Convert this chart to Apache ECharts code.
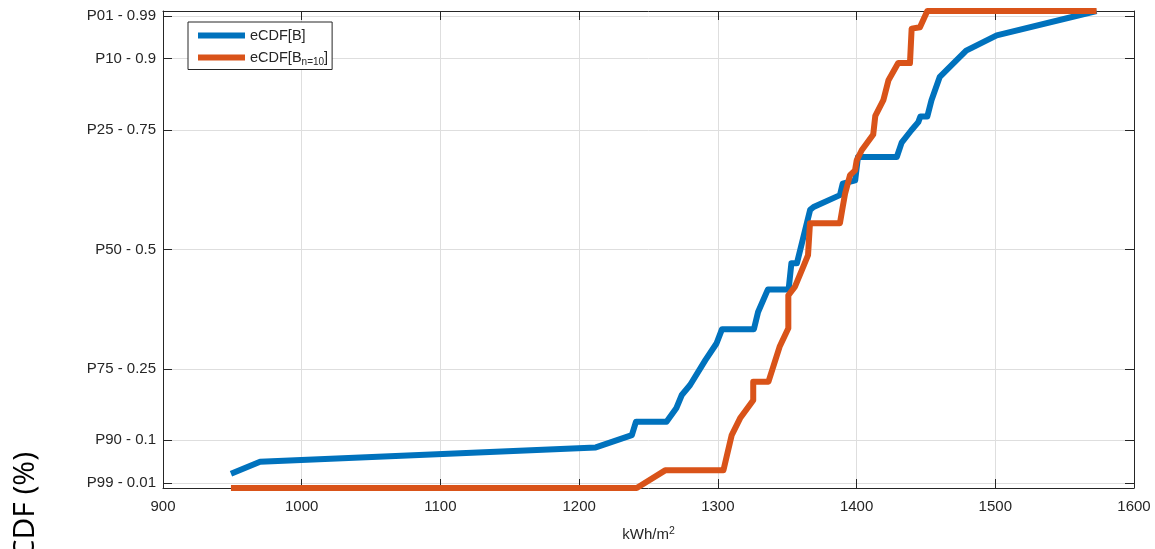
<!DOCTYPE html>
<html>
<head>
<meta charset="utf-8">
<script src="https://cdn.jsdelivr.net/npm/echarts@6/dist/echarts.min.js"></script>
<style>
html,body{margin:0;padding:0;background:#fff;}
#chart{width:1155px;height:549px;}
</style>
</head>
<body>
<div id="chart"></div>
<script>
// ---- data ----
const blueName = 'eCDF[B]';
const orangeName = 'eCDF[Bn=10]';
const blueX = [949, 970, 1212, 1238, 1241, 1263, 1270, 1274, 1280, 1291, 1299, 1303, 1326, 1329, 1336, 1351, 1353, 1357, 1366.5, 1369, 1388, 1390, 1399, 1401, 1429, 1432.5, 1439.5, 1444.5, 1446, 1451, 1454, 1460, 1479, 1501, 1573];
const blueY = [0.03, 0.055, 0.085, 0.111, 0.139, 0.139, 0.167, 0.195, 0.216, 0.268, 0.303, 0.333, 0.333, 0.369, 0.416, 0.416, 0.471, 0.471, 0.583, 0.589, 0.614, 0.638, 0.645, 0.694, 0.694, 0.724, 0.75, 0.767, 0.779, 0.779, 0.813, 0.862, 0.917, 0.949, 1.0];
const orangeX = [949, 1241.5, 1262, 1304, 1310, 1316, 1325.5, 1325.5, 1336.5, 1344.5, 1350.8, 1350.8, 1355.6, 1361.6, 1365, 1366.4, 1388, 1390, 1391.7, 1395.3, 1398.9, 1400.1, 1403.7, 1412, 1413.5, 1419.3, 1423, 1430, 1438.5, 1439.7, 1445.7, 1451, 1573];
const orangeY = [0, 0, 0.037, 0.037, 0.111, 0.146, 0.184, 0.223, 0.223, 0.296, 0.335, 0.404, 0.422, 0.464, 0.488, 0.555, 0.555, 0.589, 0.617, 0.656, 0.666, 0.687, 0.708, 0.741, 0.78, 0.813, 0.855, 0.891, 0.891, 0.963, 0.966, 1.0, 1.0];
const yTickValues = [0.01, 0.1, 0.25, 0.5, 0.75, 0.9, 0.99];
const yTickLabels = ['P99 - 0.01', 'P90 - 0.1', 'P75 - 0.25', 'P50 - 0.5', 'P25 - 0.75', 'P10 - 0.9', 'P01 - 0.99'];
const xMin = 900, xMax = 1600, xStep = 100;
const xName = 'kWh/m';
const yName = 'CDF (%)';

const blueData = blueX.map((x, i) => [x, blueY[i]]);
const orangeData = orangeX.map((x, i) => [x, orangeY[i]]);

const txt = '#262626';
const font = 'Liberation Sans, Arial, Helvetica, sans-serif';
const gridColor = '#dedede';

const chart = echarts.init(document.getElementById('chart'), null, {renderer: 'canvas'});
const option = {
  animation: false,
  backgroundColor: '#fff',
  grid: {left: 163, right: 21, top: 11, bottom: 61, containLabel: false},
  legend: {
    left: 188, top: 22, orient: 'vertical',
    data: [blueName, orangeName],
    icon: 'rect', itemWidth: 47, itemHeight: 6, itemGap: 7,
    padding: [6, 4, 2, 10],
    borderColor: '#262626', borderWidth: 1, backgroundColor: '#fff',
    formatter: function (n) {
      if (n === orangeName) return '{a|eCDF[B}{s|n=10}{a|]}';
      return '{a|' + n + '}';
    },
    textStyle: {
      color: txt, fontFamily: font, fontSize: 14.5,
      rich: {
        a: {fontSize: 14.5, fontFamily: font, color: txt, lineHeight: 20, verticalAlign: 'middle'},
        s: {fontSize: 10, fontFamily: font, color: txt, lineHeight: 6, verticalAlign: 'bottom'}
      }
    }
  },
  xAxis: [{
    type: 'value', min: xMin, max: xMax, interval: xStep,
    name: '{n|' + xName + '}{p|2}', nameLocation: 'middle', nameGap: 38,
    nameTextStyle: {
      color: txt, fontFamily: font, fontSize: 15,
      rich: {
        n: {fontSize: 15, fontFamily: font, color: txt, lineHeight: 18, verticalAlign: 'middle'},
        p: {fontSize: 10.5, fontFamily: font, color: txt, lineHeight: 10, verticalAlign: 'top'}
      }
    },
    axisLine: {show: true, onZero: false, lineStyle: {color: '#262626', width: 1}},
    axisTick: {show: true, inside: true, length: 9, lineStyle: {color: '#262626'}},
    axisLabel: {color: txt, fontFamily: font, fontSize: 15, margin: 11, formatter: function (v) { return String(v); }},
    splitLine: {show: true, lineStyle: {color: gridColor, width: 1}}
  }, {
    type: 'value', position: 'top', min: xMin, max: xMax, interval: xStep,
    axisLine: {show: true, onZero: false, lineStyle: {color: '#262626', width: 1}},
    axisTick: {show: true, inside: true, length: 9, lineStyle: {color: '#262626'}},
    axisLabel: {show: false},
    splitLine: {show: false}
  }],
  yAxis: [{
    type: 'value', min: 0, max: 1,
    axisLine: {show: true, onZero: false, lineStyle: {color: '#262626', width: 1}},
    axisTick: {show: true, inside: true, length: 9, customValues: yTickValues, lineStyle: {color: '#262626'}},
    axisLabel: {
      color: txt, fontFamily: font, fontSize: 15, margin: 7,
      customValues: yTickValues,
      formatter: function (v) {
        for (let i = 0; i < yTickValues.length; i++) {
          if (Math.abs(yTickValues[i] - v) < 1e-9) return yTickLabels[i];
        }
        return '';
      }
    },
    splitLine: {show: true, lineStyle: {color: gridColor, width: 1}}
  }, {
    type: 'value', position: 'right', min: 0, max: 1,
    axisLine: {show: true, onZero: false, lineStyle: {color: '#262626', width: 1}},
    axisTick: {show: true, inside: true, length: 9, customValues: yTickValues, lineStyle: {color: '#262626'}},
    axisLabel: {show: false, customValues: yTickValues},
    splitLine: {show: false}
  }],
  graphic: [{
    type: 'text', left: 10, top: 452, z: 10,
    rotation: Math.PI / 2,
    style: {
      text: yName, fill: '#000', fontSize: 30,
      fontFamily: 'Open Sans, Noto Sans, sans-serif'
    }
  }],
  series: [{
    name: blueName, type: 'line', data: blueData, xAxisIndex: 0, yAxisIndex: 0,
    showSymbol: false, symbol: 'none', color: '#0072BD',
    lineStyle: {color: '#0072BD', width: 6, join: 'round'}, z: 3
  }, {
    name: orangeName, type: 'line', data: orangeData, xAxisIndex: 0, yAxisIndex: 0,
    showSymbol: false, symbol: 'none', color: '#D95319',
    lineStyle: {color: '#D95319', width: 6, join: 'round'}, z: 4
  }]
};
chart.setOption(option);
</script>
</body>
</html>
